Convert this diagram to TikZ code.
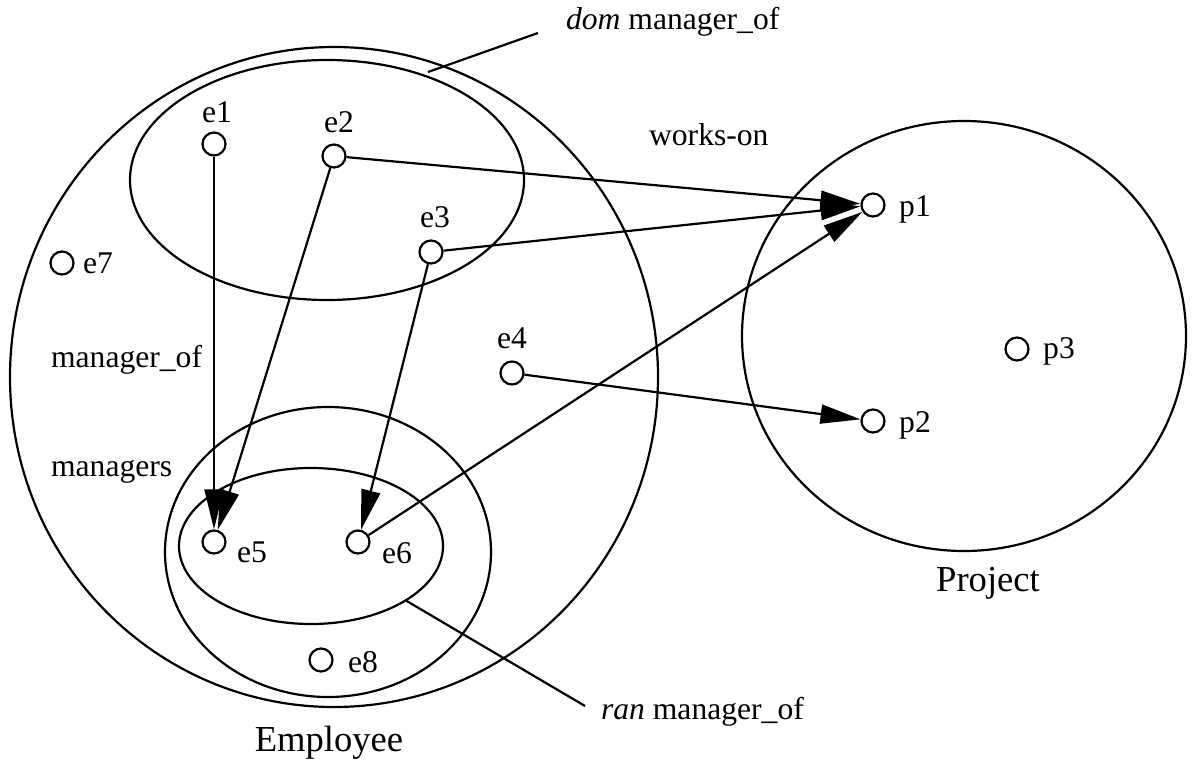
\documentclass[tikz,border=0pt]{standalone}
\usepackage{fontspec}
\setmainfont{Liberation Serif}
\usetikzlibrary{arrows.meta}

\begin{document}
\begin{tikzpicture}[x=0.5pt, y=-0.5pt, line width=1.1pt,
    elem/.style={draw, circle, minimum size=11.5pt, inner sep=0pt},
    txt/.style={font=\fontsize{15.8pt}{18pt}\selectfont, inner sep=0pt},
    big/.style={font=\fontsize{18.3pt}{21pt}\selectfont, inner sep=0pt},
    rel/.style={-{Triangle[length=20pt, width=9.5pt]}}]
    \useasboundingbox (0,0) rectangle (1192,765);

    % sets
    \draw (334,377) ellipse [x radius=324, y radius=330];
    \draw (327,180) ellipse [x radius=197, y radius=120];
    \draw (328,552) ellipse [x radius=163, y radius=145];
    \draw (311,546) ellipse [x radius=132, y radius=78];
    \draw (964,336) ellipse [x radius=222, y radius=215];

    % elements
    \node[elem] (e1) at (214,144) {};
    \node[elem] (e2) at (334,156) {};
    \node[elem] (e3) at (431,252) {};
    \node[elem] (e4) at (512,373) {};
    \node[elem] (e5) at (214,542) {};
    \node[elem] (e6) at (358,542) {};
    \node[elem] (e7) at (62,263) {};
    \node[elem] (e8) at (321,660) {};
    \node[elem] (p1) at (873,205) {};
    \node[elem] (p2) at (873,421) {};
    \node[elem] (p3) at (1017,349) {};

    \node[txt] (le1) at (217,112) {e1};
    \node[txt] (le2) at (339,122) {e2};
    \node[txt] (le3) at (435,217) {e3};
    \node[txt] (le4) at (512,338) {e4};
    \node[txt] (le5) at (252,552) {e5};
    \node[txt] (le6) at (397,553) {e6};
    \node[txt] (le7) at (98,263) {e7};
    \node[txt] (le8) at (363,662) {e8};
    \node[txt] (lp1) at (915,209) {p1};
    \node[txt] (lp2) at (915,425) {p2};
    \node[txt] (lp3) at (1059,351) {p3};

    % relations
    \draw[rel] (e1) -- (e5);
    \draw[rel] (e2) -- (e5);
    \draw[rel] (e3) -- (e6);
    \draw[rel] (e2) -- (p1);
    \draw[rel] (e3) -- (p1);
    \draw[rel] (e6) -- (p1);
    \draw[rel] (e4) -- (p2);

    % names
    \node[txt, anchor=west] (manof) at (50,360) {manager\_of};
    \node[txt, anchor=west] (mgrs) at (50,472) {managers};
    \node[txt, anchor=west] (works) at (648,135) {works-on};
    \node[txt, anchor=west] (dom) at (565,22) {\textit{dom} manager\_of};
    \node[txt, anchor=west] (ran) at (600,712) {\textit{ran} manager\_of};
    \node[big] (emp) at (329,743) {Employee};
    \node[big] (proj) at (988,583) {Project};

    \coordinate (domtip) at (428,72);
    \coordinate (domend) at (538,33);
    \draw (domtip) -- (domend);
    \coordinate (rantip) at (405,600);
    \coordinate (ranend) at (585,706);
    \draw (rantip) -- (ranend);
\end{tikzpicture}
\end{document}
